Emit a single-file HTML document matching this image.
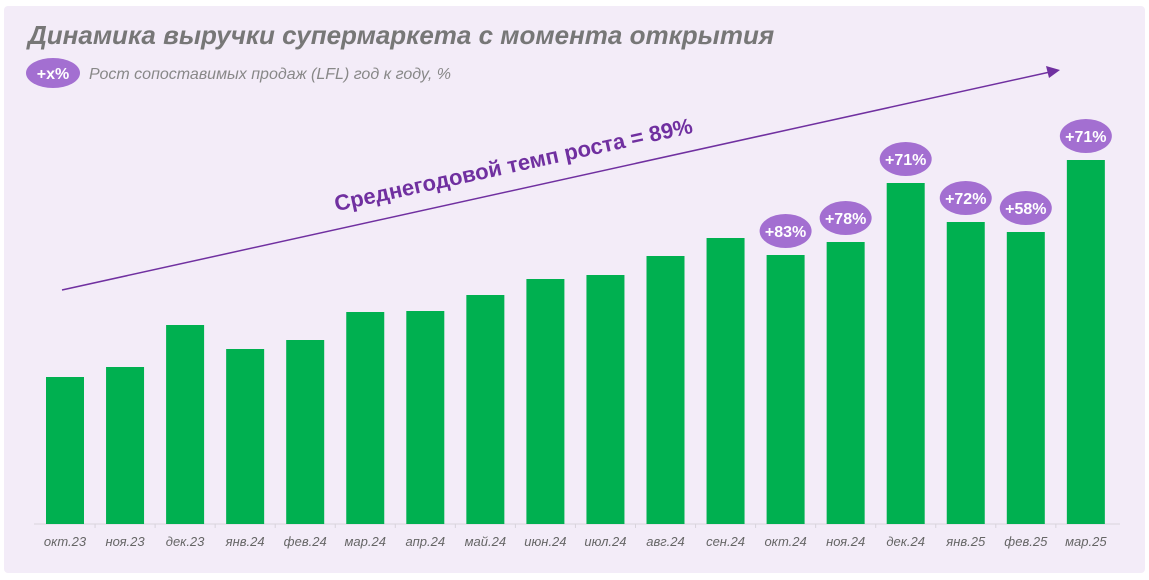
<!DOCTYPE html>
<html><head><meta charset="utf-8"><style>
body{margin:0;background:#fff;width:1149px;height:575px;overflow:hidden;font-family:"Liberation Sans",sans-serif}
</style></head><body>
<svg width="1149" height="575">
<rect x="4" y="6" width="1141" height="567" rx="4" fill="#f3ecf8"/>
<text x="28" y="44" font-size="26" font-weight="bold" font-style="italic" fill="#777">Динамика выручки супермаркета с момента открытия</text>
<ellipse cx="53" cy="73" rx="27" ry="15" fill="#a36fd1"/>
<text x="53" y="79" font-size="16" font-weight="bold" fill="#fff" text-anchor="middle">+x%</text>
<text x="89" y="79" font-size="16" font-style="italic" fill="#888">Рост сопоставимых продаж (LFL) год к году, %</text>
<line x1="34" y1="524" x2="1120" y2="524" stroke="#d8d3dc" stroke-width="1"/>
<line x1="62" y1="290" x2="1050" y2="72" stroke="#7030a0" stroke-width="1.5"/>
<polygon points="1060,70 1046,66 1049,78" fill="#7030a0"/>
<text x="515" y="172" font-size="22" font-weight="bold" fill="#7030a0" text-anchor="middle" transform="rotate(-12.4 515 172)">Среднегодовой темп роста = 89%</text>
<g id="bars"></g>
</svg>
<script>
const categories=["окт.23","ноя.23","дек.23","янв.24","фев.24","мар.24","апр.24","май.24","июн.24","июл.24","авг.24","сен.24","окт.24","ноя.24","дек.24","янв.25","фев.25","мар.25"];
const revenue=[147,157,199,175,184,212,213,229,245,249,268,286,269,282,341,302,292,364];
const lfl=[null,null,null,null,null,null,null,null,null,null,null,null,"+83%","+78%","+71%","+72%","+58%","+71%"];
const NS="http://www.w3.org/2000/svg";
const g=document.getElementById("bars");
const base=524, x0=65, step=60.05, bw=38;
function xPos(i){return x0+i*step;}
function yPos(v){return base-v;}
function mk(t,a){const e=document.createElementNS(NS,t);for(const k in a)e.setAttribute(k,a[k]);g.appendChild(e);return e;}
categories.forEach((c,i)=>{
  const cx=xPos(i), top=yPos(revenue[i]);
  const r=mk("rect",{x:cx-bw/2,y:top,width:bw,height:base-top,fill:"#00b050"});
  
  
  if(i>0){const tk=mk("line",{x1:cx-30,y1:base,x2:cx-30,y2:base+4,stroke:"#d8d3dc"});
  
  }
  const t=mk("text",{x:cx,y:base+22,"font-size":"13","font-style":"italic",fill:"#666","text-anchor":"middle"});
  t.textContent=c;
  
  
  if(lfl[i]){
    const cy=top-24;
    const el=mk("ellipse",{cx:cx,cy:cy,rx:26,ry:17,fill:"#a36fd1"});
    
    
    const lt=mk("text",{x:cx,y:cy+6,"font-size":"16","font-weight":"bold",fill:"#fff","text-anchor":"middle"});
    lt.textContent=lfl[i];
    
    
  }
});
</script>
</body></html>
